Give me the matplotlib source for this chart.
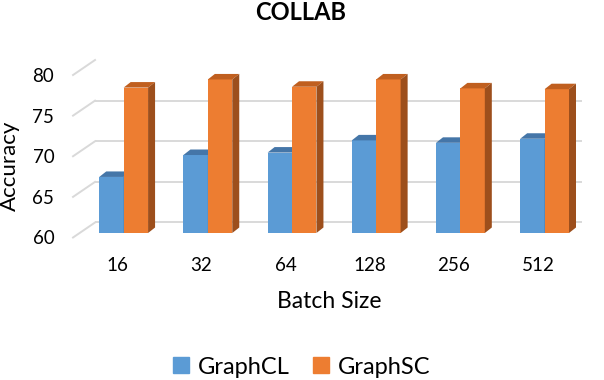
import matplotlib.pyplot as plt
import matplotlib.transforms as mtransforms
from matplotlib.patches import Polygon, Patch
import numpy as np

plt.rcParams['font.family'] = ['Lato', 'DejaVu Sans']

batch_sizes = ['16', '32', '64', '128', '256', '512']
graphcl = [66.9, 69.6, 69.9, 71.4, 71.1, 71.6]
graphsc = [77.9, 78.9, 78.0, 78.9, 77.8, 77.7]
yticks = [60, 65, 70, 75, 80]

blue, blue_top = '#5b9bd5', '#4576a8'
orange, orange_top, orange_side = '#ed7d31', '#c05f1f', '#9d4f1c'
grid_col = '#d9d9d9'

fig = plt.figure(figsize=(6.04, 3.80), dpi=100)
ax = fig.add_axes([0.1209, 0.375, 0.8427, 0.4276])

x = np.arange(len(batch_sizes))
w = 0.29
base = yticks[0]

# fake 3d: bars sit a bit behind the front plane, grid on the back wall
bar_tr = mtransforms.offset_copy(ax.transData, fig=fig, x=6.6, y=4.5, units='dots')
wall_tr = mtransforms.offset_copy(ax.transData, fig=fig, x=22, y=15, units='dots')
ident = mtransforms.IdentityTransform()
depth = np.array([7.0, 5.5])

ax.set_xlim(-0.523, 5.523)
ax.set_ylim(60, 80)
xl = ax.get_xlim()

ax.hlines(yticks, xl[0], xl[1], transform=wall_tr, colors=grid_col, lw=1.4, zorder=0)
for y in yticks:
    p_front = ax.transData.transform((xl[0], y))
    p_back = wall_tr.transform((xl[0], y))
    ax.plot([p_front[0], p_back[0]], [p_front[1], p_back[1]], color=grid_col,
            lw=1.4, transform=ident, zorder=0, clip_on=False)


def bar3d(x0, v, front, top, side, z):
    ax.bar(x0, v - base, bottom=base, width=w, align='edge', color=front,
           transform=bar_tr, zorder=z, clip_on=False)
    p0 = bar_tr.transform((x0, v))
    p1 = bar_tr.transform((x0 + w, v))
    q1 = bar_tr.transform((x0 + w, base))
    ax.add_patch(Polygon([p0, p1, p1 + depth, p0 + depth], closed=True,
                         facecolor=top, edgecolor='none', transform=ident,
                         zorder=z, clip_on=False))
    ax.add_patch(Polygon([q1, p1, p1 + depth, q1 + depth], closed=True,
                         facecolor=side, edgecolor='none', transform=ident,
                         zorder=z, clip_on=False))


for i in range(len(x)):
    bar3d(x[i] - w, graphcl[i], blue, blue_top, blue_top, 2)
    bar3d(x[i], graphsc[i], orange, orange_top, orange_side, 3)

ax.set_xlim(xl)
ax.set_ylim(60, 80)
for s in ax.spines.values():
    s.set_visible(False)
ax.set_xticks(x)
ax.set_xticklabels(batch_sizes)
ax.set_yticks(yticks)
ax.tick_params(axis='x', length=0, labelsize=13.5, pad=14, colors='black')
ax.tick_params(axis='y', length=0, labelsize=13.5, pad=13.5, colors='black')

fig.text(301 / 604, 1 - 12 / 380, 'COLLAB', ha='center', va='center',
         fontsize=17, fontweight='bold')
fig.text(10 / 604, 1 - 166 / 380, 'Accuracy', ha='center', va='center',
         rotation=90, fontsize=16)
fig.text(329 / 604, 1 - 302 / 380, 'Batch Size', ha='center', va='center',
         fontsize=16.5)

handles = [Patch(color=blue, label='GraphCL'), Patch(color=orange, label='GraphSC')]
fig.legend(handles=handles, loc='center', bbox_to_anchor=(302 / 604, 1 - 367 / 380),
           ncol=2, frameon=False, fontsize=17, handlelength=0.64, handleheight=0.64,
           handletextpad=0.4, columnspacing=1.0)

fig.savefig('out.png', dpi=100)
